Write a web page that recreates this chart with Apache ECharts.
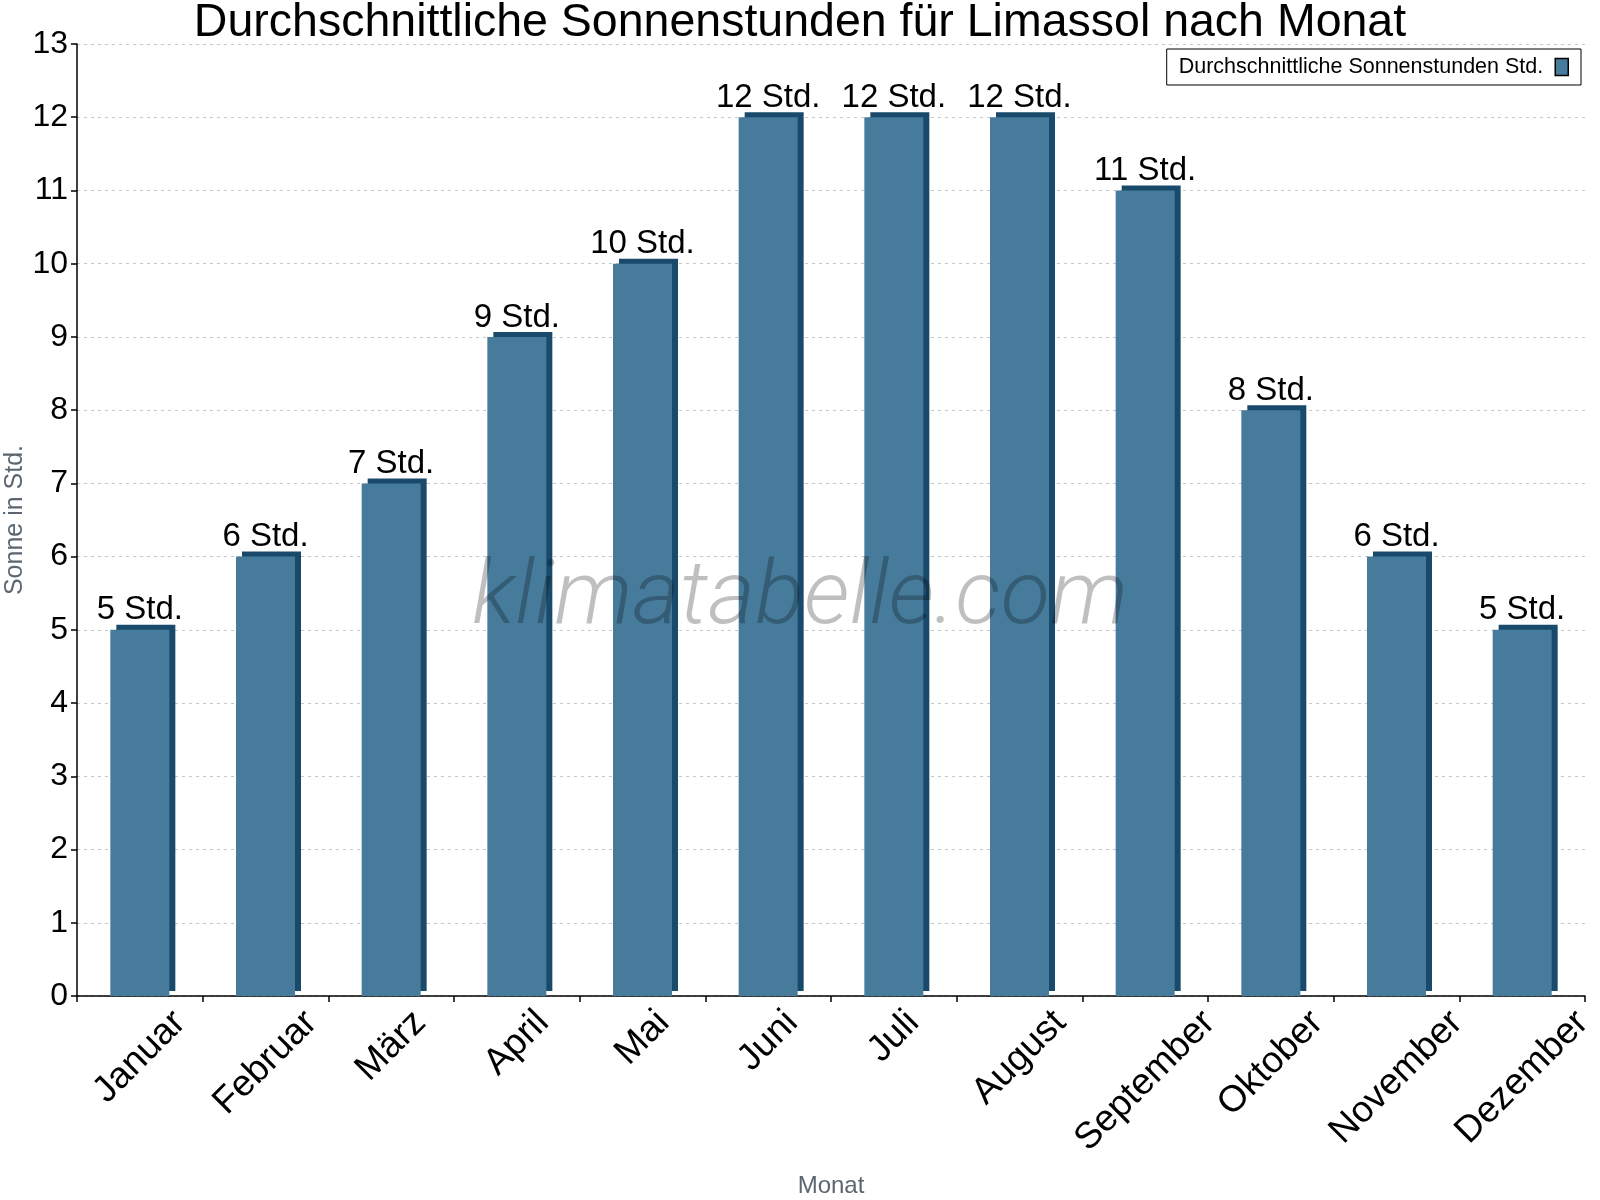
<!DOCTYPE html>
<html>
<head>
<meta charset="utf-8">
<script src="https://cdn.jsdelivr.net/npm/echarts@6/dist/echarts.min.js"></script>
<style>
  html, body { margin: 0; padding: 0; background: #fff; }
  #chart { width: 1600px; height: 1200px; }
</style>
</head>
<body>
<div id="chart"></div>
<script>
const monate = ['Januar', 'Februar', 'März', 'April', 'Mai', 'Juni', 'Juli', 'August', 'September', 'Oktober', 'November', 'Dezember']
const sonnenstunden = [5, 6, 7, 9, 10, 12, 12, 12, 11, 8, 6, 5]
const serienName = 'Durchschnittliche Sonnenstunden Std.'

const schrift = '"Liberation Sans", Arial, sans-serif'

// rotated month labels: centre each one on its category, top ends on one line
const ctx = document.createElement('canvas').getContext('2d')
ctx.font = '37px "Liberation Sans"'
const monatRich = {}
monate.forEach((m, i) => {
    const w = ctx.measureText(m).width
    monatRich['m' + i] = {
        fontSize: 37,
        fontFamily: schrift,
        color: '#000',
        padding: [w / 2, w / 2, 0, 0]
    }
})

const chart = echarts.init(document.getElementById('chart'))
chart.setOption({
    animation: false,
    backgroundColor: '#fff',
    textStyle: { fontFamily: schrift },
    title: {
        text: 'Durchschnittliche Sonnenstunden für Limassol nach Monat',
        left: 'center',
        top: -5,
        textStyle: { fontSize: 46.5, fontWeight: 'normal', color: '#000', fontFamily: schrift }
    },
    legend: {
        right: 19,
        top: 49,
        align: 'right',
        itemWidth: 13,
        itemHeight: 17,
        itemGap: 0,
        padding: [7, 12, 7, 12],
        borderColor: '#000',
        borderWidth: 1,
        borderRadius: 0,
        icon: 'rect',
        textStyle: { fontSize: 21.5, color: '#000', fontFamily: schrift, padding: [0, 7, 0, 0] },
        itemStyle: { borderColor: '#000', borderWidth: 1.5, shadowBlur: 0, shadowOffsetX: 0, shadowOffsetY: 0 }
    },
    grid: { left: 77, right: 15, top: 44, bottom: 204, containLabel: false, outerBoundsMode: 'none' },
    graphic: [{
        type: 'text',
        left: 472,
        top: 557,
        z: 100,
        silent: true,
        scaleX: 1.03,
        style: {
            text: 'klimatabelle.com',
            fontSize: 88,
            fontStyle: 'italic',
            fontWeight: 300,
            fontFamily: 'Roboto, sans-serif',
            fill: 'rgba(0,0,0,0.25)'
        }
    }],
    xAxis: {
        type: 'category',
        data: monate,
        name: 'Monat',
        nameLocation: 'middle',
        nameGap: 178,
        nameMoveOverlap: false,
        nameTextStyle: { fontSize: 24, color: '#5c6670', fontFamily: schrift },
        axisLine: { lineStyle: { color: '#000', width: 1.5 } },
        axisTick: { show: true, length: 6, lineStyle: { color: '#000', width: 1.5 } },
        axisLabel: {
            interval: 0,
            rotate: 45,
            align: 'center',
            verticalAlign: 'middle',
            margin: 21,
            formatter: (v, i) => '{m' + i + '|' + v + '}',
            rich: monatRich
        },
        splitLine: { show: false }
    },
    yAxis: {
        type: 'value',
        min: 0,
        max: 13,
        interval: 1,
        name: 'Sonne in Std.',
        nameLocation: 'middle',
        nameGap: 49,
        nameMoveOverlap: false,
        nameTextStyle: { fontSize: 25, color: '#5c6670', fontFamily: schrift },
        axisLine: { show: true, lineStyle: { color: '#000', width: 1.5 } },
        axisTick: { show: true, length: 6, lineStyle: { color: '#000', width: 1.5 } },
        axisLabel: { fontSize: 32, color: '#000', margin: 9, fontFamily: schrift },
        splitLine: { show: true, lineStyle: { color: '#c8c8c8', type: [3, 4], width: 1 } }
    },
    series: [{
        name: serienName,
        type: 'bar',
        data: sonnenstunden,
        barWidth: 59,
        itemStyle: {
            color: '#467b9c',
            shadowColor: '#1a4a6b',
            shadowBlur: 0,
            shadowOffsetX: 6,
            shadowOffsetY: -5
        },
        label: {
            show: true,
            position: 'top',
            distance: 3,
            fontSize: 33,
            color: '#000',
            fontFamily: schrift,
            formatter: p => p.value + ' Std.'
        }
    }]
})
</script>
</body>
</html>
